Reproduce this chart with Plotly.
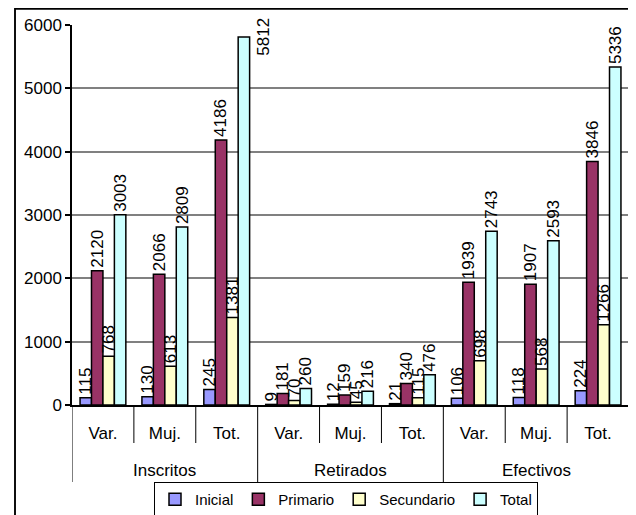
import plotly.graph_objects as go

groups = ["Inscritos", "Retirados", "Efectivos"]
subs = ["Var.", "Muj.", "Tot."]
series_names = ["Inicial", "Primario", "Secundario", "Total"]
inicial = [115, 130, 245, 9, 12, 21, 106, 118, 224]
primario = [2120, 2066, 4186, 181, 159, 340, 1939, 1907, 3846]
secundario = [768, 613, 1381, 70, 45, 115, 698, 568, 1266]
total = [3003, 2809, 5812, 260, 216, 476, 2743, 2593, 5336]
colors = ["#9999FF", "#993366", "#FFFFCC", "#CCFFFF"]
y_ticks = [0, 1000, 2000, 3000, 4000, 5000, 6000]

FONT = "Liberation Sans, Arial, sans-serif"
n = len(groups) * len(subs)
xs = list(range(n))
ymax = 6000

# figure geometry (px)
W, H = 628, 507
ML, MR, MT, MB = 5, 3, 0, 0
PW, PH = W - ML - MR, H - MT - MB
def px_x(x):
    return (x - ML) / PW
def px_y(y):
    return (H - MB - y) / PH

plot_l, plot_r, plot_t, plot_b = 64, 621, 17, 397
x_dom = [px_x(plot_l), px_x(plot_r)]
y_dom = [px_y(plot_b), px_y(plot_t)]

fig = go.Figure()
annotations = []
for name, vals, col in zip(series_names, [inicial, primario, secundario, total], colors):
    texts = []
    for i, v in enumerate(vals):
        if v > 0.95 * ymax:
            # label would not fit above the bar: put it beside the bar (as in the original)
            texts.append("")
            annotations.append(dict(text=str(v), x=xs[i], y=v, xref="x", yref="y",
                                    xshift=37, yshift=0, textangle=-90, showarrow=False,
                                    xanchor="center", yanchor="middle",
                                    font=dict(family=FONT, size=17, color="black")))
        else:
            texts.append(str(v))
    fig.add_trace(go.Bar(
        x=xs, y=vals, name=name,
        marker=dict(color=col, line=dict(color="black", width=1.5)),
        text=texts, textposition="outside", textangle=-90,
        constraintext="none", cliponaxis=False,
        textfont=dict(family=FONT, size=17, color="black"),
    ))

# chart frame drawn on an overlay pixel-unit axis: outer border (left/top/right) and gray plot edge
fig.add_trace(go.Scatter(x=[7, 7, 623, 623], y=[H + 20, 0.75, 0.75, H + 20], mode="lines",
                         line=dict(color="black", width=1.5), xaxis="x2", yaxis="y2",
                         showlegend=False, hoverinfo="skip"))
fig.add_trace(go.Scatter(x=[plot_r, plot_r], y=[plot_t, plot_b], mode="lines",
                         line=dict(color="#808080", width=1.5), xaxis="x2", yaxis="y2",
                         showlegend=False, hoverinfo="skip"))

shapes = []
# same outer border as a paper shape (coincides with the line above)
bl, br, bt = px_x(7), px_x(623), px_y(0.75)
shapes.append(dict(type="path", xref="paper", yref="paper",
                   path=f"M{bl},-0.1 L{bl},{bt} L{br},{bt} L{br},-0.1",
                   line=dict(color="black", width=1.5)))
# category dividers
for b in range(n + 1):
    is_group = (b % len(subs) == 0)
    shapes.append(dict(type="line", xref="x", yref="paper", x0=b - 0.5, x1=b - 0.5,
                       y0=y_dom[0], y1=(px_y(474) if is_group else px_y(435)),
                       line=dict(color="black", width=1)))

for gi, g in enumerate(groups):
    annotations.append(dict(text=g, x=gi * len(subs) + (len(subs) - 1) / 2, xref="x",
                            y=px_y(462), yref="paper", showarrow=False,
                            font=dict(family=FONT, size=17, color="black"),
                            xanchor="center", yanchor="middle"))

fig.update_layout(
    width=W, height=H,
    margin=dict(l=ML, r=MR, t=MT, b=MB, autoexpand=False),
    paper_bgcolor="white", plot_bgcolor="rgba(0,0,0,0)",
    barmode="group", bargap=0.26, bargroupgap=0,
    font=dict(family=FONT, size=17, color="black"),
    showlegend=True,
    legend=dict(orientation="h", x=338 / W, xref="container", y=1 - 474 / H, yref="container",
                xanchor="center", yanchor="top",
                bordercolor="black", borderwidth=1, bgcolor="white",
                font=dict(family=FONT, size=15, color="black"),
                itemwidth=30, tracegroupgap=0),
    xaxis=dict(domain=x_dom, range=[-0.5, n - 0.5], tickmode="array", tickvals=xs,
               ticktext=subs * len(groups), ticks="", showgrid=False,
               showline=True, linecolor="black", linewidth=1.5,
               ticklabelstandoff=12, zeroline=False, automargin=False,
               tickfont=dict(family=FONT, size=17, color="black")),
    yaxis=dict(domain=y_dom, range=[0, ymax], tickmode="array", tickvals=y_ticks,
               ticks="outside", ticklen=5, tickcolor="black", tickwidth=1.5,
               showline=True, linecolor="black", linewidth=1.5,
               showgrid=True, gridcolor="#808080", gridwidth=1.5, zeroline=False,
               automargin=False,
               tickfont=dict(family=FONT, size=17, color="black")),
    xaxis2=dict(domain=[0, 1], range=[ML, W - MR], visible=False, anchor="y2",
                showgrid=False, zeroline=False, fixedrange=True),
    yaxis2=dict(domain=[0, 1], range=[H - MB, MT], visible=False, anchor="x2",
                showgrid=False, zeroline=False, fixedrange=True),
    shapes=shapes, annotations=annotations,
)

fig.write_html("out.html")
